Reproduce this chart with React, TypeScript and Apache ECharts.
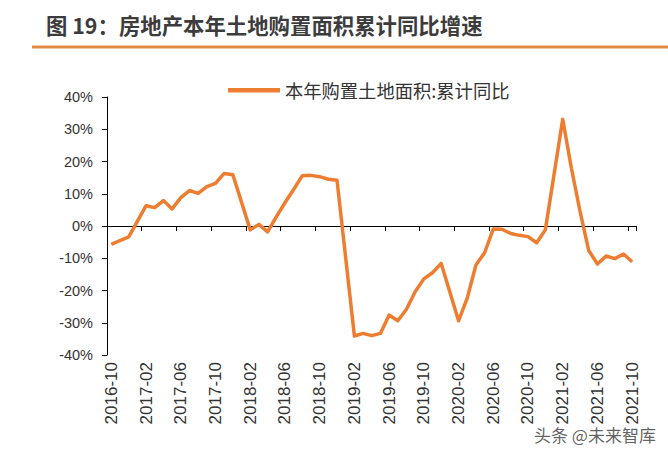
import React, { useEffect, useRef } from "react";
import * as echarts from "echarts";

const categories = [
  "2016-10", "2016-11", "2016-12",
  "2017-01", "2017-02", "2017-03", "2017-04", "2017-05", "2017-06", "2017-07", "2017-08", "2017-09", "2017-10", "2017-11", "2017-12",
  "2018-01", "2018-02", "2018-03", "2018-04", "2018-05", "2018-06", "2018-07", "2018-08", "2018-09", "2018-10", "2018-11", "2018-12",
  "2019-01", "2019-02", "2019-03", "2019-04", "2019-05", "2019-06", "2019-07", "2019-08", "2019-09", "2019-10", "2019-11", "2019-12",
  "2020-01", "2020-02", "2020-03", "2020-04", "2020-05", "2020-06", "2020-07", "2020-08", "2020-09", "2020-10", "2020-11", "2020-12",
  "2021-01", "2021-02", "2021-03", "2021-04", "2021-05", "2021-06", "2021-07", "2021-08", "2021-09", "2021-10",
];

// 本年购置土地面积:累计同比 (%) — January not published (null)
const landPurchaseYoY = [
  -5.7, -4.5, -3.4,
  null, 6.3, 5.7, 7.9, 5.3, 8.8, 11.0, 10.1, 12.2, 13.2, 16.3, 15.9,
  null, -1.2, 0.5, -1.8, 2.8, 7.2, 11.3, 15.6, 15.7, 15.3, 14.5, 14.2,
  null, -34.1, -33.3, -34.0, -33.3, -27.6, -29.4, -25.8, -20.4, -16.4, -14.5, -11.6,
  null, -29.4, -22.4, -12.1, -8.3, -0.9, -1.0, -2.3, -2.9, -3.3, -5.2, -1.2,
  null, 33.1, 17.9, 4.5, -7.6, -11.8, -9.3, -10.1, -8.7, -11.1,
];

const seriesName = "本年购置土地面积:累计同比";
const titleText = "图 19：房地产本年土地购置面积累计同比增速";
const watermarkText = "头条 @未来智库";

const yMin = -40;
const yMax = 40;
const yInterval = 10;

export default function App() {
  const ref = useRef<HTMLDivElement>(null);

  useEffect(() => {
    document.body.style.margin = "0";
    const chart = echarts.init(ref.current!, null, { renderer: "svg" });
    const axisColor = "#000";
    const textColor = "#333";
    chart.setOption({
      animation: false,
      backgroundColor: "#fff",
      grid: { left: 107, right: 31.5, top: 97, bottom: 99, containLabel: false },
      legend: {
        data: [seriesName],
        left: 223,
        top: 76,
        icon: "rect",
        itemWidth: 52,
        itemHeight: 4.5,
        textStyle: { fontSize: 18.3, color: textColor, fontFamily: "Noto Sans CJK SC" },
      },
      xAxis: [
        {
          type: "category",
          data: categories,
          boundaryGap: true,
          axisLine: { onZero: true, lineStyle: { color: axisColor, width: 1 } },
          axisTick: { show: true, interval: 3, length: 5, inside: false, alignWithLabel: false, lineStyle: { color: axisColor } },
          axisLabel: { show: false },
          splitLine: { show: false },
        },
        {
          type: "category",
          data: categories,
          boundaryGap: true,
          position: "bottom",
          axisLine: { show: false, onZero: false },
          axisTick: { show: false },
          axisLabel: {
            show: true,
            interval: 3,
            rotate: 90,
            margin: 7,
            fontSize: 17,
            color: textColor,
            fontFamily: "Liberation Sans",
          },
          splitLine: { show: false },
        },
      ],
      yAxis: {
        type: "value",
        min: yMin,
        max: yMax,
        interval: yInterval,
        axisLine: { show: true, lineStyle: { color: axisColor, width: 1 } },
        axisTick: { show: true, length: 5, lineStyle: { color: axisColor } },
        axisLabel: {
          formatter: "{value}%",
          fontSize: 14.5,
          margin: 14,
          color: textColor,
          fontFamily: "Liberation Sans",
        },
        splitLine: { show: false },
      },
      series: [
        {
          name: seriesName,
          type: "line",
          xAxisIndex: 0,
          data: landPurchaseYoY,
          connectNulls: true,
          showSymbol: false,
          symbol: "none",
          lineStyle: { color: "#ED7D31", width: 3.5, join: "round" },
          itemStyle: { color: "#ED7D31" },
        },
      ],
      graphic: [
        {
          type: "text",
          left: 46,
          top: 13.5,
          style: {
            text: titleText,
            fontSize: 21.4,
            fontWeight: "bold",
            fill: "#3c3c3c",
            fontFamily: "Noto Sans CJK SC",
          },
        },
        {
          type: "line",
          shape: { x1: 32, y1: 47, x2: 668, y2: 47 },
          style: { stroke: "#DF8A47", lineWidth: 3 },
        },
        {
          type: "text",
          left: 533,
          top: 425,
          style: {
            text: watermarkText,
            fontSize: 17,
            fill: "rgba(70,70,70,0.85)",
            stroke: "#fff",
            lineWidth: 2,
            fontFamily: "Noto Sans CJK SC",
          },
        },
      ],
    });
    return () => chart.dispose();
  }, []);

  return <div ref={ref} style={{ width: 668, height: 454 }} />;
}
